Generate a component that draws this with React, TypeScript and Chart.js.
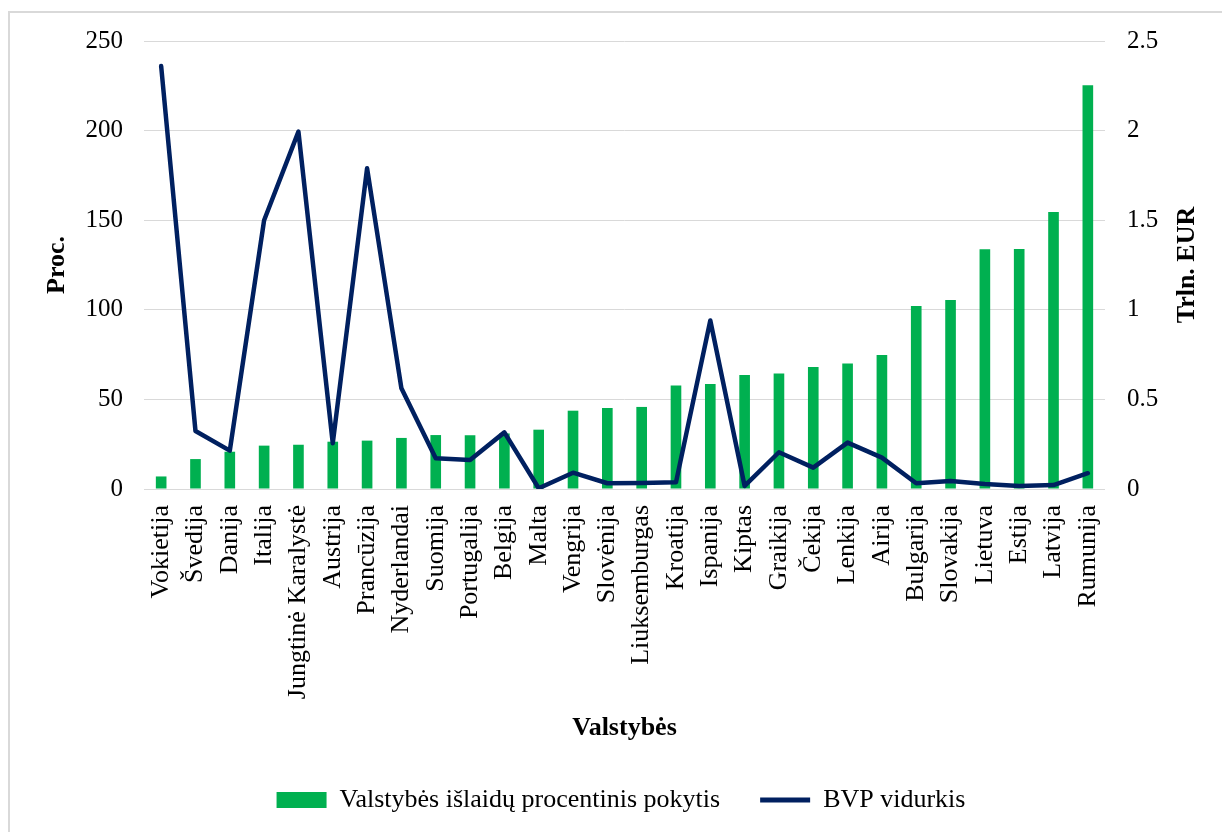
import React, { useEffect, useRef } from "react";
import { Chart, registerables } from "chart.js";

Chart.register(...registerables);

const categories = [
  "Vokietija", "Švedija", "Danija", "Italija", "Jungtinė Karalystė", "Austrija",
  "Prancūzija", "Nyderlandai", "Suomija", "Portugalija", "Belgija", "Malta",
  "Vengrija", "Slovėnija", "Liuksemburgas", "Kroatija", "Ispanija", "Kiptas",
  "Graikija", "Čekija", "Lenkija", "Airija", "Bulgarija", "Slovakija",
  "Lietuva", "Estija", "Latvija", "Rumunija",
];

const spendingChange = [
  7, 16.7, 20.8, 24.2, 24.7, 26.4, 27, 28.5, 30.1, 30, 31, 33.1,
  43.7, 45.2, 45.8, 57.7, 58.6, 63.6, 64.4, 68.1, 70.1, 74.8, 102.1, 105.5,
  133.8, 133.9, 154.6, 225.3,
];

const gdpAverage = [
  2.36, 0.324, 0.214, 1.5, 1.994, 0.255, 1.79, 0.562, 0.171, 0.162, 0.316, 0.004,
  0.091, 0.032, 0.033, 0.037, 0.94, 0.017, 0.205, 0.119, 0.259, 0.175, 0.032, 0.045,
  0.028, 0.017, 0.022, 0.088,
];

const barLabel = "Valstybės išlaidų procentinis pokytis";
const lineLabel = "BVP vidurkis";
const xTitle = "Valstybės";
const leftTitle = "Proc.";
const rightTitle = "Trln. EUR";

const FONT = "'Liberation Serif', 'Times New Roman', serif";
const GREEN = "#00B050";
const NAVY = "#002060";

const rightTitlePlugin = {
  id: "rightTitle",
  afterDraw(chart: any) {
    const s = chart.scales.y1;
    const area = chart.chartArea;
    const ctx = chart.ctx;
    ctx.save();
    ctx.translate(s.right - 25, (area.top + area.bottom) / 2);
    ctx.rotate(-Math.PI / 2);
    ctx.font = `bold 26px ${FONT}`;
    ctx.fillStyle = "#000";
    ctx.textAlign = "center";
    ctx.textBaseline = "middle";
    ctx.fillText(rightTitle, 0, 0);
    ctx.restore();
  },
};

export default function App() {
  const ref = useRef<HTMLCanvasElement>(null);

  useEffect(() => {
    const chart = new Chart(ref.current!, {
      type: "bar",
      data: {
        labels: categories,
        datasets: [
          {
            type: "bar",
            label: barLabel,
            data: spendingChange,
            backgroundColor: GREEN,
            borderWidth: 0,
            barPercentage: 0.31,
            categoryPercentage: 1,
            yAxisID: "y",
            order: 1,
          } as any,
          {
            type: "line",
            label: lineLabel,
            data: gdpAverage,
            borderColor: NAVY,
            backgroundColor: NAVY,
            borderWidth: 4.5,
            borderJoinStyle: "round",
            borderCapStyle: "round",
            pointRadius: 0,
            tension: 0,
            yAxisID: "y1",
            order: 0,
          } as any,
        ],
      },
      options: {
        responsive: false,
        animation: false,
        devicePixelRatio: 1,
        layout: { padding: { left: 30, right: 10, top: 41, bottom: 9 } },
        plugins: {
          tooltip: { enabled: false },
          legend: {
            position: "bottom",
            labels: {
              usePointStyle: true,
              pointStyleWidth: 50,
              boxHeight: 16,
              padding: 40,
              color: "#000",
              font: { family: FONT, size: 26 },
              sort: (a: any, b: any) => a.datasetIndex - b.datasetIndex,
              generateLabels: (c: any) => {
                const items = (Chart.defaults.plugins.legend.labels as any).generateLabels(c);
                items.forEach((it: any) => {
                  if (it.datasetIndex === 0) {
                    it.pointStyle = "rect";
                    it.lineWidth = 0;
                  } else {
                    it.pointStyle = "line";
                    it.lineWidth = 5;
                    it.strokeStyle = NAVY;
                  }
                });
                return items;
              },
            },
          } as any,
        },
        scales: {
          x: {
            grid: { display: false, drawTicks: false },
            border: { display: false },
            ticks: {
              autoSkip: false,
              minRotation: 90,
              maxRotation: 90,
              padding: 16,
              color: "#000",
              font: { family: FONT, size: 26 },
            },
            title: {
              display: true,
              text: xTitle,
              color: "#000",
              font: { family: FONT, size: 26, weight: "bold" },
              padding: { top: 0, bottom: 3 },
            },
            afterFit: (s: any) => {
              s.height = 258;
            },
          },
          y: {
            position: "left",
            min: 0,
            max: 250,
            grid: { color: "#d9d9d9", lineWidth: 1, drawTicks: false },
            border: { display: false },
            ticks: {
              stepSize: 50,
              padding: 21,
              color: "#000",
              font: { family: FONT, size: 25 },
            },
            title: {
              display: true,
              text: leftTitle,
              color: "#000",
              font: { family: FONT, size: 26, weight: "bold" },
              padding: { top: 12, bottom: 0 },
            },
            afterFit: (s: any) => {
              s.width = 114;
            },
          },
          y1: {
            position: "right",
            min: 0,
            max: 2.5,
            grid: { display: false, drawTicks: false },
            border: { display: false },
            ticks: {
              stepSize: 0.5,
              padding: 22,
              color: "#000",
              font: { family: FONT, size: 25 },
              callback: (v: any) => String(Number(v)),
            },
            afterFit: (s: any) => {
              s.width = 107;
            },
          },
        },
      } as any,
      plugins: [rightTitlePlugin],
    });
    return () => chart.destroy();
  }, []);

  return (
    <div
      style={{
        position: "fixed",
        left: 0,
        top: 0,
        width: 1222,
        height: 832,
        overflow: "hidden",
        background: "#fff",
      }}
    >
      <div
        style={{
          position: "absolute",
          left: 8,
          top: 11,
          width: 1300,
          height: 900,
          border: "2px solid #d9d9d9",
          boxSizing: "border-box",
        }}
      />
      <canvas
        ref={ref}
        width={1222}
        height={832}
        style={{ position: "absolute", left: 0, top: 0 }}
      />
    </div>
  );
}
